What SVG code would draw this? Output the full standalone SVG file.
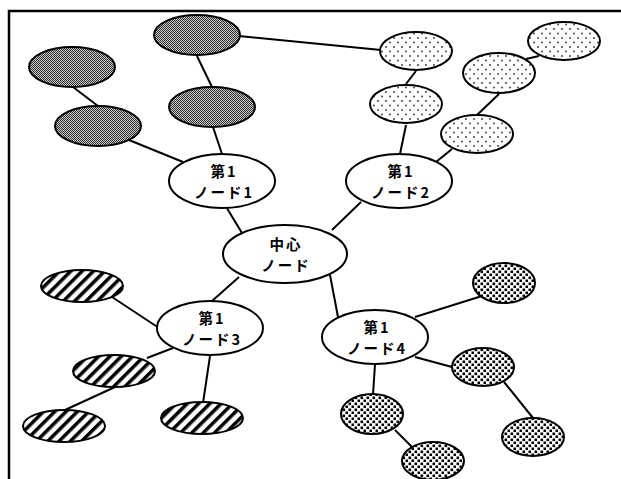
<svg xmlns="http://www.w3.org/2000/svg" width="621" height="479" viewBox="0 0 621 479">
<style>
.e{stroke:#000;stroke-width:2}
.w{fill:#fff}
.c line{stroke:#000;stroke-width:2}
text{font-family:"Noto Sans CJK JP","Noto Sans CJK SC",sans-serif;font-size:14.5px;font-weight:bold;text-anchor:middle;fill:#000;letter-spacing:2px}
</style>
<defs>
<pattern id="chk" width="2" height="2" patternUnits="userSpaceOnUse">
<rect width="2" height="2" fill="#cfcfcf"/>
<rect width="1" height="1" fill="#2a2a2a"/>
<rect x="1" y="1" width="1" height="1" fill="#2a2a2a"/>
</pattern>
<pattern id="dot" width="8" height="9" patternUnits="userSpaceOnUse">
<rect width="8" height="9" fill="#fff"/>
<circle cx="2" cy="2" r="0.9" fill="#333"/>
<circle cx="6" cy="6.5" r="0.9" fill="#333"/>
</pattern>
<pattern id="str" width="8" height="8" patternUnits="userSpaceOnUse" patternTransform="rotate(45)">
<rect width="8" height="8" fill="#fff"/>
<rect width="3.5" height="8" fill="#000"/>
</pattern>
<pattern id="dd" width="6" height="6" patternUnits="userSpaceOnUse">
<rect width="6" height="6" fill="#fff"/>
<rect x="0.5" y="0.5" width="2.6" height="2.6" fill="#000"/>
<rect x="3.5" y="3.5" width="2.6" height="2.6" fill="#000"/>
</pattern>
</defs>
<rect width="621" height="479" fill="#fff"/>
<path d="M9 479 V11 H621" fill="none" stroke="#000" stroke-width="2.5"/>
<g id="connectors" class="c">
<line x1="222" y1="200" x2="245" y2="238"/>
<line x1="129" y1="140" x2="183" y2="162"/>
<line x1="73" y1="87" x2="98" y2="106"/>
<line x1="213" y1="127" x2="222" y2="154"/>
<line x1="197" y1="56" x2="212" y2="87"/>
<line x1="239" y1="36" x2="381" y2="50"/>
<line x1="416" y1="71" x2="406" y2="84"/>
<line x1="406" y1="125" x2="400" y2="154"/>
<line x1="436" y1="162" x2="452" y2="149"/>
<line x1="477" y1="115" x2="499" y2="94"/>
<line x1="526" y1="59" x2="539" y2="56"/>
<line x1="361" y1="202" x2="332" y2="230"/>
<line x1="239" y1="277" x2="212" y2="301"/>
<line x1="112" y1="297" x2="159" y2="328"/>
<line x1="173" y1="348" x2="147" y2="358"/>
<line x1="115" y1="387" x2="65" y2="410"/>
<line x1="210" y1="356" x2="203" y2="403"/>
<line x1="330" y1="275" x2="338" y2="317"/>
<line x1="415" y1="317" x2="482" y2="296"/>
<line x1="415" y1="357" x2="452" y2="367"/>
<line x1="375" y1="364" x2="373" y2="395"/>
<line x1="395" y1="430" x2="412" y2="447"/>
<line x1="504" y1="382" x2="533" y2="418"/>
</g>
<g id="central"><ellipse class="e w" cx="285" cy="254" rx="62" ry="29"/><text x="286" y="250">中心<tspan x="286" dy="21">ノード</tspan></text></g>
<g id="node1"><ellipse class="e w" cx="222" cy="181" rx="53" ry="27"/><text x="224" y="177">第1<tspan x="224" dy="21">ノード1</tspan></text></g>
<g id="node2"><ellipse class="e w" cx="399" cy="181" rx="53" ry="27"/><text x="401" y="177">第1<tspan x="401" dy="21">ノード2</tspan></text></g>
<g id="node3"><ellipse class="e w" cx="210" cy="328" rx="53" ry="27"/><text x="212" y="324">第1<tspan x="212" dy="21">ノード3</tspan></text></g>
<g id="node4"><ellipse class="e w" cx="375" cy="337" rx="53" ry="27"/><text x="377" y="333">第1<tspan x="377" dy="21">ノード4</tspan></text></g>
<g id="g1"><ellipse class="e" fill="url(#chk)" cx="72" cy="67" rx="43" ry="20"/></g>
<g id="g2"><ellipse class="e" fill="url(#chk)" cx="98" cy="126" rx="43" ry="20"/></g>
<g id="g3"><ellipse class="e" fill="url(#chk)" cx="197" cy="35" rx="43" ry="20"/></g>
<g id="g4"><ellipse class="e" fill="url(#chk)" cx="212" cy="107" rx="43" ry="20"/></g>
<g id="d1"><ellipse class="e" fill="url(#dot)" cx="416" cy="51" rx="36" ry="19"/></g>
<g id="d2"><ellipse class="e" fill="url(#dot)" cx="406" cy="104" rx="36" ry="19"/></g>
<g id="d3"><ellipse class="e" fill="url(#dot)" cx="564" cy="41" rx="36" ry="19"/></g>
<g id="d4"><ellipse class="e" fill="url(#dot)" cx="499" cy="73" rx="36" ry="20"/></g>
<g id="d5"><ellipse class="e" fill="url(#dot)" cx="477" cy="134" rx="36" ry="19"/></g>
<g id="s1"><ellipse class="e" fill="url(#str)" cx="82" cy="286" rx="41" ry="16"/></g>
<g id="s2"><ellipse class="e" fill="url(#str)" cx="114" cy="371" rx="41" ry="16"/></g>
<g id="s3"><ellipse class="e" fill="url(#str)" cx="64" cy="426" rx="41" ry="16"/></g>
<g id="s4"><ellipse class="e" fill="url(#str)" cx="202" cy="418" rx="41" ry="16"/></g>
<g id="p1"><ellipse class="e" fill="url(#dd)" cx="504" cy="283" rx="31" ry="20"/></g>
<g id="p2"><ellipse class="e" fill="url(#dd)" cx="483" cy="367" rx="31" ry="19"/></g>
<g id="p3"><ellipse class="e" fill="url(#dd)" cx="372" cy="414" rx="31" ry="20"/></g>
<g id="p4"><ellipse class="e" fill="url(#dd)" cx="433" cy="461" rx="31" ry="19"/></g>
<g id="p5"><ellipse class="e" fill="url(#dd)" cx="533" cy="437" rx="31" ry="19"/></g>
</svg>
